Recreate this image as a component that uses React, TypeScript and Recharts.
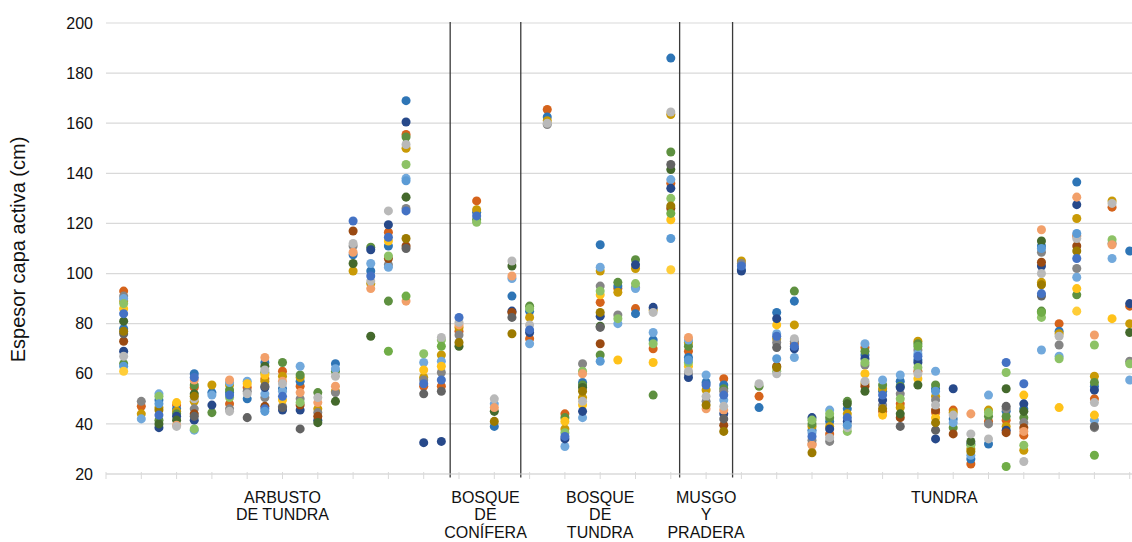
import React from "react";
import {
  ScatterChart,
  Scatter,
  XAxis,
  YAxis,
  ZAxis,
  CartesianGrid,
  ReferenceLine,
} from "recharts";

const _ = null;

// one row per sampling site, index in row = series (year)
const arbustoDeTundra: (number | null)[][] = [
  [93, 78, 89, 64, 91, 90, 86, 69, 73, 88, 81, _, 67, 76, 77, 84, 63, _, 61],
  [47, _, 44, _, 49, 42],
  [_, 49.5, 46.5, 41.5, _, 52, _, 38.5, _, 51, 40, _, _, _, 45.5, 43.5, 48],
  [47.5, 46, 45, 44, _, _, 48.5, 43, _, _, 41.5, 39.5, 39],
  [54.5, 60, 49, 55.5, 46, 37.5, _, 41.5, 44, 38, 52, 57.5, 50, 43, 51, 58.5],
  [_, 52.5, 55.5, 44.5, _, 51.5, _, 47.5],
  [48, 52.5, 55.5, 53.5, 46, 56.5, _, _, _, 50.5, _, 57.5, 45, _, _, 51.5],
  [54.5, 50, _, _, 53, 57, 56, _, _, _, _, _, 52, 42.5],
  [58, 64.5, 57, 60.5, 50.5, 52, 59.5, 54.5, 47, _, 63, 66.5, 61.5, 55, _, 46, 45],
  [61, 54, 59, 64.5, 47, 53, 49.5, 45.5, _, _, _, 57, 56, 46.5, _, 51],
  [55, 57, 58.5, 59.5, 50, 63, _, 45.5, 47.5, 48.5, _, 52.5, _, 38],
  [_, _, 46, 52.5, 44.5, _, _, 41.5, 43, _, 40.5, 48.5, 50.5],
  [_, 64, 53, 61, 52.5, 62, _, _, _, _, 49, 55, 59],
  [_, 107.5, 101, _, 111, _, _, _, 117, _, 104, 108.5, 112, _, _, 121],
  [_, 101, 96, 110.5, _, 104, _, 109.5, _, _, 75, 94, 97, _, _, 99],
  [116.5, 111, _, 89, 103.5, 102.5, 113, 119.5, 106, 107, _, _, 125, _, _, 114.5, _, 69],
  [155.5, 169, 150, 154.5, 126, 138, _, 160.5, 111, 143.5, 130.5, 89, 151.5, 110, 114, 125, 137, 91],
  [55, _, 58.5, _, 57.5, 64.5, 61.5, 32.5, _, 68, _, _, _, 52, _, 56],
  [55, _, 67.5, _, 60.5, 65, 63, 33, _, 73.5, _, _, 74.5, 53, _, 57.5, _, 71],
];

const bosqueDeConifera: (number | null)[][] = [
  [77, _, 78.5, _, 75.5, _, _, _, _, _, 71, 79.5, 80.5, _, 72.5, 82.5],
  [129, 124.5, 125.5, 121.5, _, _, _, _, _, 120.5, _, _, _, _, _, 123],
  [_, 39, _, _, _, 48, _, _, _, _, 45, 46.5, 50, _, 41],
  [_, 91, _, _, _, 98, _, 85, 84.5, _, 103, 99, 105, 82.5, 76],
];

const bosqueDeTundra: (number | null)[][] = [
  [74, 85, 82.5, 87, _, 72, _, 76.5, _, 86, _, _, 79.5, _, _, 77.5],
  [165.5, 162.5, 161, _, 159.5, _, _, _, _, _, _, _, 160],
  [44, _, 38, 42.5, _, 31, 41, 34, _, 36.5, _, _, _, _, _, 35],
  [_, 56.5, 50.5, 55.5, 64, 42.5, 47.5, 45, _, 61, 54.5, 60, 49, _, 53],
  [88.5, 111.5, 101, 67.5, 95, 102.5, 91.5, 83, 72, 93, 79, _, _, 78.5, 84.5, _, 65],
  [94, 95, 92.5, 96.5, 83.5, 80, 65.5, _, _, 82],
  [86, 84, 102, 105.5, 94.5, 94, _, 103.5, _, 96],
  [70, 73.5, 85.5, 51.5, _, 76.5, 64.5, 86.5, _, 72, _, _, 84.5],
  [136, 186, 163.5, 148.5, _, 137.5, 121.5, 134, 126, 130, 141.5, _, 164.5, 143.5, 127, _, 114, 124, 101.5],
];

const musgoYPradera: (number | null)[][] = [
  [69, 66.5, 72.5, 71, 60, 73.5, 63, 58.5, _, 64.5, _, 74.5, 61, _, _, _, 65.5],
  [_, 56.5, 53.5, _, 49, 59.5, _, _, _, _, _, 46, 51, _, 47.5, 55.5],
  [58, 55.5, _, 54, 53, 49.5, _, 44, 39.5, _, _, 45.5, 47, 42, 37, 51.5],
];

const tundra: (number | null)[][] = [
  [_, 101.5, 105, _, 104, _, _, 101, _, _, _, _, _, _, _, 103],
  [51, 46.5, _, 55, _, _, _, _, _, _, _, _, 56],
  [_, 84.5, 74, _, 72.5, 76, 79.5, 82, 63, 61, _, _, 60, 70.5, 62.5, 75, 66],
  [72, 89, 79.5, 93, 73, 66.5, _, 70, _, _, _, _, 74, _, _, 71],
  [32, 37.5, 39, 40, 33.5, 36.5, _, 42.5, _, 41.5, _, 31.5, _, _, 28.5, 35],
  [36, 41, 39, 42.5, 33, 45.5, _, 38, _, 44, _, _, 34.5],
  [_, 46, 44, 49, _, _, _, 41, _, 37, 48, _, 38.5, _, _, 42.5, 39.5],
  [70.5, 67.5, 56, 69, 63.5, 72, 60, 66, 55, 64.5, 53, _, 57],
  [45, 53, 54, 55.5, 47.5, 57.5, 43.5, 49.5, _, _, _, _, _, _, 46, 51.5],
  [48, 57, 46.5, 55, 52, 59.5, _, 54.5, 42.5, 50, 44, _, _, 39],
  [61, 65.5, 73, 72, 69.5, 68, 58, 64.5, _, 62.5, 55.5, _, 60, _, _, 67, _, 71],
  [44.5, 54, 51, 55.5, 49.5, 61, 42.5, 34, 45.5, _, _, _, 47.5, 37.5, 40.5, _, 53],
  [45.5, 42, 44.5, 38.5, _, 40.5, _, 54, 36, _, _, _, 43.5],
  [24, 26, 30, _, _, 27.5, _, 32, _, 31.5, 33, 44, 36, _, 29],
  [41, 32, 45.5, 43, 40, 51.5, _, _, _, 44.5, _, _, 34],
  [41.5, 45, 39, 43, 46, _, _, 37.5, 36.5, 60.5, 54, _, _, 47, _, 64.5, _, 23],
  [35.5, 46, 29.5, 42.5, 40.5, _, 51.5, 48, 38.5, 31.5, 45, 37, 25, _, _, 56],
  [_, 111, 96.5, 85, 108.5, 69.5, _, 103, 104.5, 82.5, 113, 117.5, 100, 91, 95.5, 92, 110, 84.5],
  [80, 77, 76, _, 71.5, 67, 46.5, _, _, 66, _, _, 75],
  [115, 136.5, 122, 91.5, 102, 98.5, 94, 127.5, 111, _, _, 130.5, 114, _, 109, 106, 116, _, 85],
  [50, 55, 59, 56.5, 38.5, 41.5, 43.5, 53.5, _, 71.5, _, 75.5, 48.5, 39, _, _, _, 27.5],
  [126.5, _, 129, _, 112, 106, 82, _, _, 113.5, _, 111.5, 128],
  [87, 109, 80, _, 65, 57.5, _, 88, _, 64, 76.5],
  [], // last site falls outside the visible frame
];

const groups = [
  { label: ["ARBUSTO", "DE TUNDRA"], sites: arbustoDeTundra },
  { label: ["BOSQUE", "DE", "CONÍFERA"], sites: bosqueDeConifera },
  { label: ["BOSQUE", "DE", "TUNDRA"], sites: bosqueDeTundra },
  { label: ["MUSGO", "Y", "PRADERA"], sites: musgoYPradera },
  { label: ["TUNDRA"], sites: tundra },
];

const yTicks = [20, 40, 60, 80, 100, 120, 140, 160, 180, 200];

const seriesColors = [
  "#D5631B", "#2E75B6", "#C99A06", "#5E9040", "#858585", "#72A9DC",
  "#FFC21A", "#27498A", "#9A4A12", "#8DC266", "#44692C", "#F2A06A",
  "#B9B9B9", "#636363", "#9C7A00", "#4472C4", "#5B9BD5", "#70AD47",
  "#FFCD38",
];

const X_MAX = 58.13;

const allSites = groups.flatMap((g) => g.sites);

let start = 0;
const groupCenters = groups.map((g) => {
  const center = start + (g.sites.length + 1) / 2;
  const dividerAt = start + g.sites.length + 0.5;
  start += g.sites.length;
  return { label: g.label, center, dividerAt };
});
const dividers = groupCenters.slice(0, -1).map((g) => g.dividerAt);

const evenTicks: number[] = [];
for (let t = 0; t <= 58; t += 2) evenTicks.push(t);
const xTicks = Array.from(
  new Set([...evenTicks, ...groupCenters.map((g) => g.center)]),
).sort((a, b) => a - b);

const seriesData = seriesColors.map((_c, s) =>
  allSites.flatMap((vals, k) =>
    vals[s] != null ? [{ x: k + 1, y: vals[s] as number }] : [],
  ),
);

function XTick(props: any) {
  const { x, y, payload } = props;
  const v = payload.value;
  const group = groupCenters.find((g) => Math.abs(g.center - v) < 1e-6);
  return (
    <g>
      {evenTicks.includes(v) && (
        <line x1={x} x2={x} y1={y - 2} y2={y + 5} stroke="#D9D9D9" />
      )}
      {group && (
        <text x={x} y={y + 28.5} textAnchor="middle" fontSize={16} fill="#111">
          {group.label.map((line, i) => (
            <tspan key={i} x={x} dy={i === 0 ? 0 : 17.5}>
              {line}
            </tspan>
          ))}
        </text>
      )}
    </g>
  );
}

function YTitle(props: any) {
  const vb = props.viewBox || { y: 23, height: 451 };
  const cy = vb.y + vb.height / 2 + 1;
  return (
    <text
      x={25}
      y={cy}
      transform={`rotate(-90 25 ${cy})`}
      textAnchor="middle"
      fontSize={20}
      fill="#111"
    >
      Espesor capa activa (cm)
    </text>
  );
}

export default function App() {
  return (
    <div
      style={{
        width: 1132,
        height: 542,
        fontFamily: "'Liberation Sans', Arial, sans-serif",
        background: "#fff",
      }}
    >
      <style>{"body{margin:0}"}</style>
      <ScatterChart
        width={1132}
        height={542}
        margin={{ top: 23, right: 0, bottom: 0, left: 0 }}
      >
        <CartesianGrid vertical={false} stroke="#D9D9D9" strokeWidth={1.2} />
        <XAxis
          type="number"
          dataKey="x"
          domain={[0, X_MAX]}
          allowDataOverflow
          ticks={xTicks}
          interval={0}
          height={68}
          tickLine={false}
          tickSize={0}
          tickMargin={0}
          tick={<XTick />}
          axisLine={{ stroke: "#D9D9D9", strokeWidth: 1.2 }}
        />
        <YAxis
          type="number"
          dataKey="y"
          domain={[20, 200]}
          allowDataOverflow
          ticks={yTicks}
          interval={0}
          width={106}
          tickLine={false}
          axisLine={false}
          tickSize={0}
          tickMargin={13}
          tick={{ fill: "#111", fontSize: 16 }}
          label={{ content: <YTitle /> }}
        />
        <ZAxis range={[41, 41]} />
        {seriesData.map((data, s) => (
          <Scatter
            key={s}
            data={data}
            fill={seriesColors[s]}
            isAnimationActive={false}
          />
        ))}
        {dividers.map((d) => (
          <ReferenceLine
            key={d}
            segment={[
              { x: d, y: 18.6 },
              { x: d, y: 200.4 },
            ]}
            ifOverflow="visible"
            stroke="#3A3A3A"
            strokeWidth={1.3}
          />
        ))}
      </ScatterChart>
    </div>
  );
}
